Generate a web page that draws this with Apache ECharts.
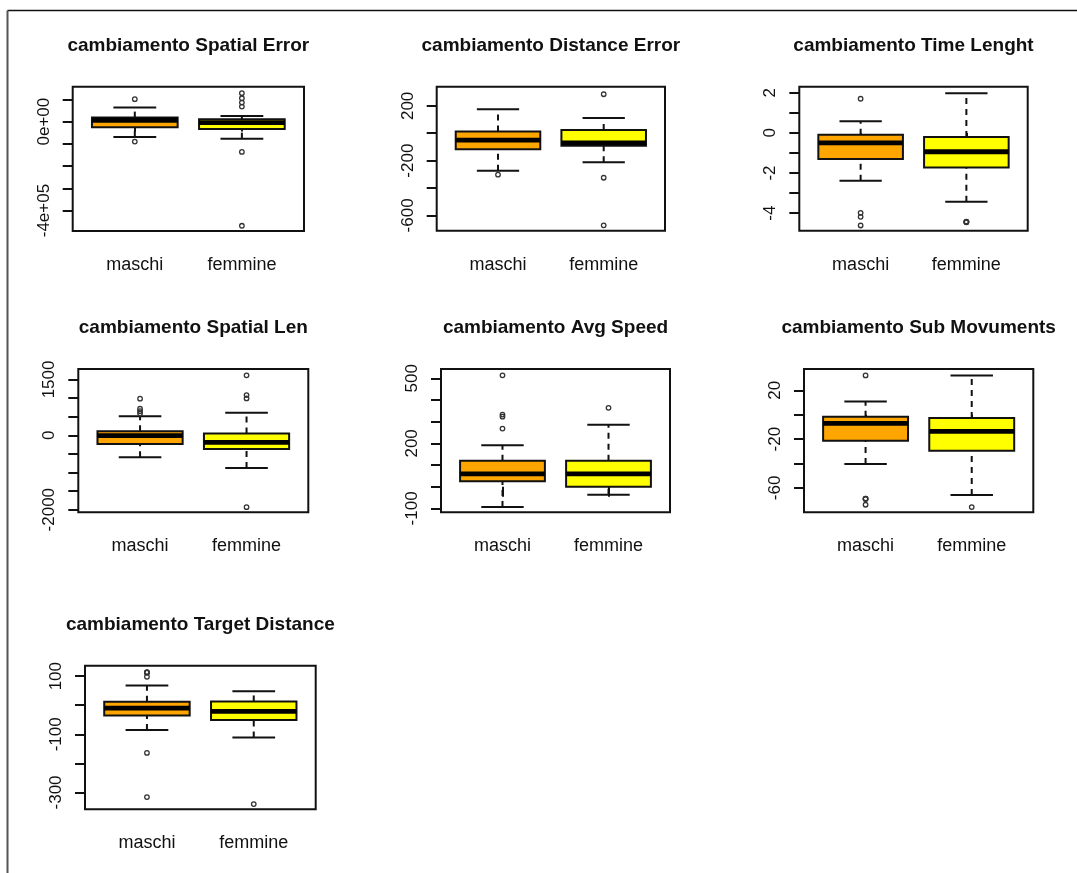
<!DOCTYPE html>
<html>
<head>
<meta charset="utf-8">
<script src="https://cdn.jsdelivr.net/npm/echarts@6.0.0/dist/echarts.min.js"></script>
<style>
  html, body { margin: 0; padding: 0; background: #fff; }
  #chartContainer { width: 1077px; height: 873px; }
</style>
</head>
<body>
<div id="chartContainer"></div>
<script>
// groups on the x axis
const groups = ['maschi', 'femmine'];

// box stats per group: [lower whisker, Q1, median, Q3, upper whisker]
const spatialErrorStats = [[-69000, -25200, 6000, 18000, 63000], [-76600, -32900, -5000, 10800, 25700]];
const spatialErrorOutliers = [[1, 101000], [1, -90000], [2, 128000], [2, 105000], [2, 85600], [2, 67600], [2, -136500], [2, -468500]];
const spatialErrorTicks = [100000, 0, -100000, -200000, -300000, -400000];
const spatialErrorLabels = [0, -400000];
const spatialErrorLabelText = ['0e+00', '-4e+05'];

const distanceErrorStats = [[-274, -117, -51, 12, 176], [-212, -91, -71, 24, 112]];
const distanceErrorOutliers = [[1, -303], [2, 285], [2, -325], [2, -673]];
const distanceErrorTicks = [200, 0, -200, -400, -600];
const distanceErrorLabels = [200, -200, -600];

const timeLengthStats = [[-2.38, -1.30, -0.50, -0.09, 0.58], [-3.43, -1.72, -0.94, -0.20, 1.98]];
const timeLengthOutliers = [[1, 1.70], [1, -3.98], [1, -4.18], [1, -4.61], [2, -4.42], [2, -4.43], [2, -4.44], [2, -4.45]];
const timeLengthTicks = [2, 1, 0, -1, -2, -3, -4];
const timeLengthLabels = [2, 0, -2, -4];

const spatialLenStats = [[-594, -232, -8, 108, 513], [-880, -367, -189, 46, 604]];
const spatialLenOutliers = [[1, 982], [1, 712], [1, 648], [1, 585], [2, 1611], [2, 1079], [2, 990], [2, -1932]];
const spatialLenTicks = [1500, 1000, 500, 0, -500, -1000, -1500, -2000];
const spatialLenLabels = [1500, 0, -2000];

const avgSpeedStats = [[-94, 25, 59, 120, 191], [-37, 0, 59, 120, 286]];
const avgSpeedOutliers = [[1, 514], [1, 333], [1, 323], [1, 268], [2, 364]];
const avgSpeedTicks = [500, 400, 300, 200, 100, 0, -100];
const avgSpeedLabels = [500, 200, -100];

const subMovStats = [[-40.4, -21.3, -7.1, -1.6, 10.9], [-65.8, -29.5, -13.7, -2.7, 32.2]];
const subMovOutliers = [[1, 32.2], [1, -68.8], [1, -68.9], [1, -69.0], [1, -73.8], [2, -75.7]];
const subMovTicks = [20, 0, -20, -40, -60];
const subMovLabels = [20, -20, -60];

const targetDistStats = [[-85, -35, -10, 12, 68], [-111, -51, -21, 13, 48]];
const targetDistOutliers = [[1, 114], [1, 113], [1, 112], [1, 98], [1, -164], [1, -316], [2, -340]];
const targetDistTicks = [100, 0, -100, -200, -300];
const targetDistLabels = [100, -100, -300];

const panels = [
    { title: 'cambiamento Spatial Error', stats: spatialErrorStats, outliers: spatialErrorOutliers, ticks: spatialErrorTicks, labels: spatialErrorLabels, labelText: spatialErrorLabelText, range: [-492000, 157000] },
    { title: 'cambiamento Distance Error', stats: distanceErrorStats, outliers: distanceErrorOutliers, ticks: distanceErrorTicks, labels: distanceErrorLabels, range: [-712, 340] },
    { title: 'cambiamento Time Lenght', stats: timeLengthStats, outliers: timeLengthOutliers, ticks: timeLengthTicks, labels: timeLengthLabels, range: [-4.87, 2.3] },
    { title: 'cambiamento Spatial Len', stats: spatialLenStats, outliers: spatialLenOutliers, ticks: spatialLenTicks, labels: spatialLenLabels, range: [-2070, 1780] },
    { title: 'cambiamento Avg Speed', stats: avgSpeedStats, outliers: avgSpeedOutliers, ticks: avgSpeedTicks, labels: avgSpeedLabels, range: [-118, 543] },
    { title: 'cambiamento Sub Movuments', stats: subMovStats, outliers: subMovOutliers, ticks: subMovTicks, labels: subMovLabels, range: [-80, 37.5] },
    { title: 'cambiamento Target Distance', stats: targetDistStats, outliers: targetDistOutliers, ticks: targetDistTicks, labels: targetDistLabels, range: [-358, 136] }
];

// plot boxes [left, top, width, height] and title centre y
const boxes = [
    [72.7, 86.7, 231.3, 144.3], [436.7, 86.7, 228.3, 144], [799.3, 86.7, 228.4, 144],
    [78.3, 369, 230, 143.3], [441, 369, 229, 143.3], [804, 369, 229.3, 143.3],
    [85, 665.7, 230.7, 143.6]
];
const titleY = [46, 46, 46, 328, 328, 328, 625];

const boxFills = ['#FFA500', '#FFFF00'];
const FONT = '"Liberation Sans", Arial, sans-serif';
const LW = 2;
const INK = '#111';

function renderBox(params, api) {
    const x = api.value(0);
    const lo = api.value(1), q1 = api.value(2), med = api.value(3), q3 = api.value(4), hi = api.value(5);
    const tl = api.coord([x - 0.4, q3]);
    const br = api.coord([x + 0.4, q1]);
    const mL = api.coord([x - 0.4, med]), mR = api.coord([x + 0.4, med]);
    const cHi = api.coord([x, hi]), cQ3 = api.coord([x, q3]), cQ1 = api.coord([x, q1]), cLo = api.coord([x, lo]);
    const sL = api.coord([x - 0.2, hi])[0], sR = api.coord([x + 0.2, hi])[0];
    const solid = { stroke: INK, lineWidth: LW };
    const dash = { stroke: INK, lineWidth: LW, lineDash: [6, 5] };
    return {
        type: 'group',
        children: [
            { type: 'line', shape: { x1: cLo[0], y1: cLo[1], x2: cQ1[0], y2: cQ1[1] }, style: dash },
            { type: 'line', shape: { x1: cQ3[0], y1: cQ3[1], x2: cHi[0], y2: cHi[1] }, style: dash },
            { type: 'line', shape: { x1: sL, y1: cHi[1], x2: sR, y2: cHi[1] }, style: solid },
            { type: 'line', shape: { x1: sL, y1: cLo[1], x2: sR, y2: cLo[1] }, style: solid },
            { type: 'rect', shape: { x: tl[0], y: tl[1], width: br[0] - tl[0], height: br[1] - tl[1] },
              style: { fill: boxFills[params.dataIndex], stroke: INK, lineWidth: LW } },
            { type: 'line', shape: { x1: mL[0], y1: mL[1], x2: mR[0], y2: mR[1] }, style: { stroke: '#000', lineWidth: 4.8 } }
        ]
    };
}

const grid = [], xAxis = [], yAxis = [], series = [], graphic = [];

panels.forEach((p, i) => {
    const b = boxes[i];
    grid.push({ left: b[0], top: b[1], width: b[2], height: b[3], show: true, borderColor: INK, borderWidth: LW, outerBoundsMode: 'none' });
    xAxis.push({
        gridIndex: i, type: 'value', min: 0.42, max: 2.58,
        axisLine: { show: false }, splitLine: { show: false },
        axisTick: { customValues: [1, 2], length: 10, lineStyle: { color: INK, width: LW } },
        axisLabel: { customValues: [1, 2], formatter: v => groups[Math.round(v) - 1], margin: 25, fontSize: 18, color: '#111', fontFamily: FONT }
    });
    yAxis.push({
        gridIndex: i, type: 'value', min: p.range[0], max: p.range[1],
        axisLine: { show: false }, splitLine: { show: false },
        axisTick: { customValues: p.ticks, length: 10, lineStyle: { color: INK, width: LW } },
        axisLabel: {
            customValues: p.labels, rotate: 90, margin: 20, fontSize: 17, color: '#111', fontFamily: FONT,
            formatter: v => p.labelText ? p.labelText[p.labels.indexOf(v)] : String(v)
        }
    });
    series.push({
        type: 'custom', xAxisIndex: i, yAxisIndex: i,
        renderItem: renderBox,
        encode: { x: 0, y: [1, 2, 3, 4, 5] },
        data: p.stats.map((s, k) => [k + 1].concat(s)),
        silent: true
    });
    series.push({
        type: 'scatter', xAxisIndex: i, yAxisIndex: i,
        data: p.outliers, symbol: 'circle', symbolSize: 4.5,
        itemStyle: { color: 'rgba(0,0,0,0)', borderColor: '#333', borderWidth: 1.3, opacity: 1 },
        silent: true
    });
    graphic.push({
        type: 'text', x: b[0] + b[2] / 2, y: titleY[i],
        style: { text: p.title, textAlign: 'center', textVerticalAlign: 'middle', fontSize: 19, fontWeight: 'bold', fontFamily: FONT, fill: '#111' }
    });
});

// outer frame
graphic.push({ type: 'line', shape: { x1: 7.5, y1: 10.5, x2: 1077, y2: 10.5 }, style: { stroke: '#111', lineWidth: 1.5 } });
graphic.push({ type: 'line', shape: { x1: 7.5, y1: 10.5, x2: 7.5, y2: 873 }, style: { stroke: '#555', lineWidth: 2 } });

const chart = echarts.init(document.getElementById('chartContainer'));
chart.setOption({
    backgroundColor: '#fff',
    animation: false,
    grid, xAxis, yAxis, series, graphic
});
</script>
</body>
</html>
